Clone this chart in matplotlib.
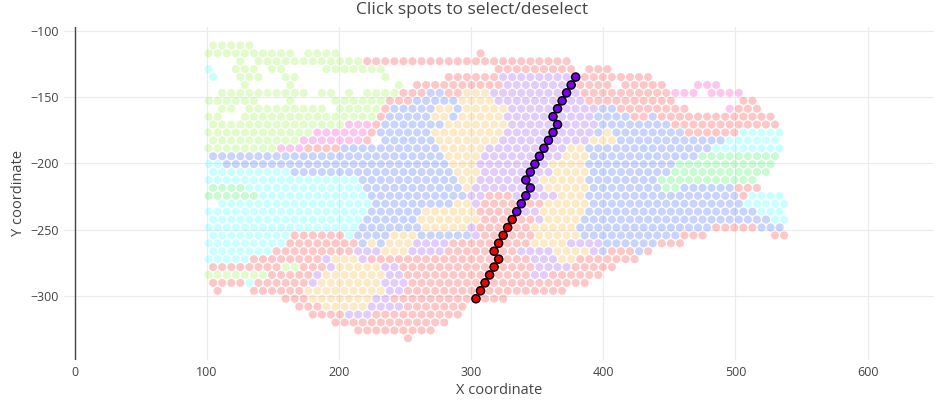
import matplotlib
matplotlib.use('Agg')
import matplotlib.pyplot as plt

plt.rcParams['font.family'] = ['Open Sans', 'DejaVu Sans']

# hex grid of the spots (data units)
x_even0 = 104.75
x_odd0 = 101.34
x_step = 6.859
y_top = -111.0
y_step = 5.976

# cluster of every spot, one line per grid row from the top: "<code><first>-<last>"
spot_rows = [
    "G0-4",
    "G0-9 G11-14 R30",
    "G3 G5-16 R17-39",
    "C0 G3-5 G7-8 G13-19 R32-40 R42-44",
    "C0 G3-5 G8-9 G19 R26-31 V32-40 R41-48",
    "G4 G9 G21 R23-32 V33-40 R41-44 R46-50 P54-56",
    "G1-10 G12-13 G15 G17-20 R21-23 B24-25 R26-27 Y28-30 V31-40 R41-50 P51-53 P55-58",
    "G0-5 G9 G14-19 R20-22 B23-27 Y28-31 V32-41 R42-51 R59-60",
    "G1-2 G4-12 G14-18 R19 B20-24 Y25-26 B27 Y28-32 V33-42 B43-44 R45-52 P57 R58-60",
    "G0-1 G4-18 R19 B20-24 Y25-26 B27 Y28-32 V33-42 B43-46 R47-48 B49 R50-62",
    "G0-14 P15-17 R18 B19-25 Y26-32 V33-42 B43-50 R51-62",
    "G0-11 P12-17 R18 B19-24 Y25-32 V33-42 B43 Y44 B45-52 R53-58 C59-63",
    "G0-9 P10-16 R17 B19-24 Y25-31 V32-41 Y42-44 B45-56 C57-62",
    "G0-7 P8-10 R11-14 B15-25 Y26-30 V31-39 Y40-41 B42-55 C56-63",
    "B0-25 Y26-29 V30-38 Y39-41 B42-53 M54-62",
    "C0-1 B2-26 Y27-29 V30-37 Y38-41 B42-51 M52-62",
    "C0-8 B9-26 Y27-29 V30-37 Y38-41 B42-50 M51-61",
    "C0-16 B17-27 Y28-29 V30-36 Y37-41 B42-49 M50-60",
    "M0-3 C4-16 B17-27 Y28 V29-36 Y37-41 B42-49 M50-51 B52-57 R58-60",
    "M0-5 C6-17 B18-28 V29-30 R31-33 V34-38 Y39-41 B42-58 R59 C60-63",
    "C1-17 B18-26 Y27-28 V29 R30-36 Y37-41 B42-58 C59-63",
    "C0-17 B18-23 Y24-29 R30-33 V34-36 Y37-41 B42-60 C61-63",
    "C0-16 B17-22 Y23-29 R30-35 V36 Y37-40 B41-61 C62-63",
    "C0-16 B17-23 Y24-28 V29 R30-35 Y36-40 B41-55 R56-60 B61-63",
    "C0-8 R9-14 C15 B16-19 Y20-22 B23-28 V29 R30-35 Y36-40 B41-51 R52-54 R62-63",
    "C0-8 R9-16 B17 Y18 B19 Y20-22 V23-26 R27-35 Y36-39 V40-43 B44-49 R50-52",
    "C0-6 R7-15 V16-18 Y19-21 V22-25 R26-33 V34-37 Y38-41 V42 B43 R44-46 B47 R48",
    "C0-4 R5-12 V13 Y14-16 V17 R18-35 V36-38 Y39-40 R41-47",
    "R0-7 G8-9 R10-12 V13 Y14-18 V19-20 R21-35 V36-39 R40-44",
    "G0-6 R7-11 V12 Y13-19 V20-21 R22-35 V36-37 R38-43",
    "R0-3 C4 R5-10 V11 Y12-18 V19-21 R22-41",
    "R1 R5-10 Y11-19 V20-21 R22-39",
    "R8-10 Y11-17 V18-19 R20-32",
    "R10-12 Y13-17 V18-21 R22-28",
    "R11-14 V15-17 R18-27",
    "R14-26",
    "R16-24",
    "R22",
]

# selected spots (grid row, grid column) and their group
sel_rows = [4, 5, 6, 7, 8, 9, 10, 11, 12, 13, 14, 15, 16, 17, 18, 19, 20, 21,
            22, 23, 24, 25, 26, 27, 28, 29, 30, 31, 32]
sel_cols = [40, 40, 39, 39, 38, 38, 38, 38, 37, 37, 36, 36, 35, 35, 35, 35, 34, 34,
            33, 33, 32, 32, 31, 32, 31, 31, 30, 30, 29]
sel_group = ['upper'] * 18 + ['lower'] * 11

cluster_colors = {
    'G': '#9ef555', 'M': '#4bf26c', 'C': '#55ffff', 'B': '#4b73f2',
    'P': '#f848cd', 'R': '#fc4848', 'Y': '#f8bc48', 'V': '#9e58f2',
}
group_colors = {'upper': '#7a00ee', 'lower': '#f00000'}


def parse_row(text):
    cells = {}
    for part in text.split():
        code, span = part[0], part[1:]
        if '-' in span:
            a, b = span.split('-')
        else:
            a = b = span
        for i in range(int(a), int(b) + 1):
            cells[i] = code
    return cells


def spot_xy(r, i):
    x0 = x_even0 if r % 2 == 0 else x_odd0
    return x0 + i * x_step, y_top - r * y_step


xs, ys, cs = [], [], []
for r, text in enumerate(spot_rows):
    for i, code in sorted(parse_row(text).items()):
        x, y = spot_xy(r, i)
        xs.append(x)
        ys.append(y)
        cs.append(cluster_colors[code])

fig = plt.figure(figsize=(9.44, 4.0), dpi=100)
ax = fig.add_axes([64 / 944, 0.10, (934 - 64) / 944, 0.8325])

ax.scatter(xs, ys, s=34, c=cs, alpha=0.3, linewidths=0, zorder=2)

sx, sy, sc = [], [], []
for r, i, g in zip(sel_rows, sel_cols, sel_group):
    x, y = spot_xy(r, i)
    sx.append(x)
    sy.append(y)
    sc.append(group_colors[g])
ax.scatter(sx, sy, s=34, c=sc, edgecolors='black', linewidths=1.1, zorder=3)

ax.set_xlim(-8.1, 650.3)
ax.set_ylim(-348.5, -97.1)
ax.set_xticks([0, 100, 200, 300, 400, 500, 600])
ax.set_yticks([-100, -150, -200, -250, -300])
ax.grid(True, color='#ebebeb', linewidth=0.8, zorder=0)
ax.set_axisbelow(True)
ax.axvline(0, color='#444444', linewidth=1.0, zorder=1)
for side in ['top', 'right', 'bottom', 'left']:
    ax.spines[side].set_visible(False)
ax.tick_params(length=0, labelsize=9, colors='#444444', pad=4)

ax.set_xlabel('X coordinate', fontsize=10.5, color='#444444', labelpad=3)
ax.set_ylabel('Y coordinate', fontsize=10.5, color='#444444', labelpad=3)
fig.text(0.5, 0.975, 'Click spots to select/deselect', ha='center', va='center',
         fontsize=12.5, color='#444444')

fig.savefig('out.png', dpi=100)
